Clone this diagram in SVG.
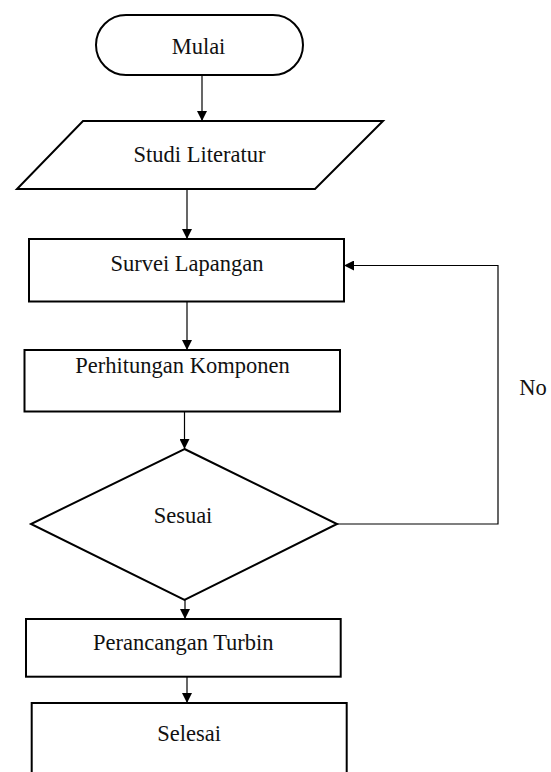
<svg xmlns="http://www.w3.org/2000/svg" width="551" height="772" viewBox="0 0 551 772">
<style>
.shape{fill:#fff;stroke:#000;stroke-width:2}
.conn{fill:none;stroke:#000;stroke-width:1.2}
text{font-family:"Liberation Serif","Times New Roman",serif;font-size:22.5px;fill:#111}
.c{text-anchor:middle}
</style>
<defs>
<marker id="ah" viewBox="0 0 10 10" refX="10" refY="5" markerWidth="10" markerHeight="10" markerUnits="userSpaceOnUse" orient="auto">
<path d="M0,0 L10,5 L0,10 z" fill="#000"/>
</marker>
</defs>
<rect width="551" height="772" fill="#fff"/>
<g id="connectors">
<line class="conn" x1="202" y1="75" x2="202" y2="121" marker-end="url(#ah)"/>
<line class="conn" x1="187" y1="189" x2="187" y2="239" marker-end="url(#ah)"/>
<line class="conn" x1="187" y1="302" x2="187" y2="350" marker-end="url(#ah)"/>
<line class="conn" x1="184.5" y1="412" x2="184.5" y2="449" marker-end="url(#ah)"/>
<polyline class="conn" points="337,524 498,524 498,265.5 344,265.5" marker-end="url(#ah)"/>
<line class="conn" x1="185" y1="600" x2="185" y2="619" marker-end="url(#ah)"/>
<line class="conn" x1="187" y1="677" x2="187" y2="703" marker-end="url(#ah)"/>
</g>
<g id="mulai">
<rect class="shape" x="96" y="15" width="207" height="60" rx="30" ry="30"/>
<text class="c" x="198.5" y="54">Mulai</text>
</g>
<g id="studi">
<polygon class="shape" points="83,121 383,121 315,189 17,189"/>
<text class="c" x="199.5" y="161.5">Studi Literatur</text>
</g>
<g id="survei">
<rect class="shape" x="29" y="239" width="315" height="62.5"/>
<text class="c" x="187" y="271">Survei Lapangan</text>
</g>
<g id="perhitungan">
<rect class="shape" x="24.5" y="350" width="315.5" height="61.5"/>
<text class="c" x="182.5" y="373.3">Perhitungan Komponen</text>
</g>
<g id="sesuai">
<polygon class="shape" points="184.5,449 337,524 184.5,600 31,524"/>
<text class="c" x="183" y="523">Sesuai</text>
</g>
<g id="no-label">
<text x="519.3" y="395">No</text>
</g>
<g id="perancangan">
<rect class="shape" x="26" y="619" width="314.7" height="57.7"/>
<text class="c" x="183.3" y="650">Perancangan Turbin</text>
</g>
<g id="selesai">
<rect class="shape" x="31.7" y="703" width="315" height="80"/>
<text class="c" x="189.2" y="740.7">Selesai</text>
</g>
</svg>
